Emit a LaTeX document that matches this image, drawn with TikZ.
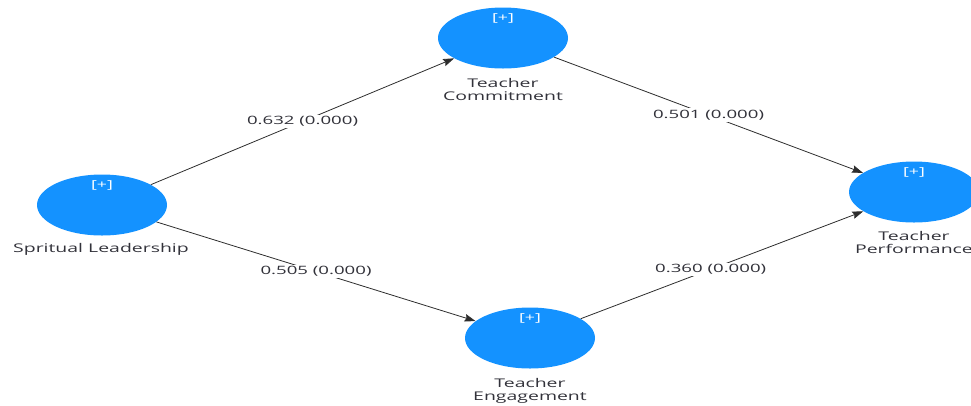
\documentclass[tikz,border=0pt]{standalone}
\usepackage{fontspec}
\setmainfont[FakeStretch=1.62]{Open Sans}
\usetikzlibrary{shapes.geometric,arrows.meta}
\definecolor{lvblue}{RGB}{20,146,255}
\definecolor{txtgray}{RGB}{50,50,58}
\definecolor{edgegray}{RGB}{45,45,45}
\tikzset{
  lv/.style={ellipse,fill=lvblue,minimum width=130pt,minimum height=61pt,inner sep=0pt},
  plus/.style={text=white,font=\fontsize{11}{12}\selectfont,inner sep=0pt},
  lvlabel/.style={text=txtgray,font=\fontsize{12}{13.5}\selectfont,align=center,anchor=north,inner sep=0pt},
  path/.style={draw=edgegray,line width=0.8pt,-{Stealth[length=11pt,width=7.5pt,inset=1.5pt]}},
  coef/.style={fill=white,text=txtgray,font=\fontsize{11.5}{12}\selectfont,inner sep=1.5pt}
}
\begin{document}
\begin{tikzpicture}[x=1pt,y=-1pt]
\useasboundingbox (0,0) rectangle (971,405);
\node[lv] (sl) at (102,205) {};
\node[lv] (tc) at (503,38) {};
\node[lv] (tp) at (914,192) {};
\node[lv] (te) at (530,338) {};
\node[plus] (slp) at (102,185) {[+]};
\node[plus] (tcp) at (503,18) {[+]};
\node[plus] (tpp) at (914,172) {[+]};
\node[plus] (tep) at (530,318) {[+]};
\node[lvlabel] (sll) at (101,243) {Spritual Leadership};
\node[lvlabel] (tcl) at (503,78) {Teacher\\Commitment};
\node[lvlabel] (tpl) at (914,231) {Teacher\\Performance};
\node[lvlabel] (tel) at (530,378) {Teacher\\Engagement};
\draw[path] (sl) -- node[coef,pos=0.5] (c1) {0.632 (0.000)} (tc);
\draw[path] (tc) -- node[coef,pos=0.5] (c2) {0.501 (0.000)} (tp);
\draw[path] (sl) -- node[coef,pos=0.5] (c3) {0.505 (0.000)} (te);
\draw[path] (te) -- node[coef,pos=0.46] (c4) {0.360 (0.000)} (tp);
\end{tikzpicture}
\end{document}
